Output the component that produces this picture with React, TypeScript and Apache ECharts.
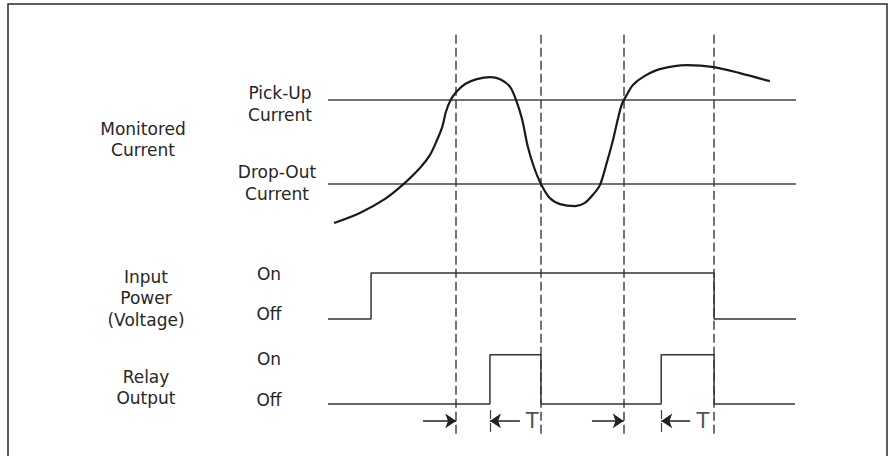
import React, { useEffect, useRef } from "react";
import * as echarts from "echarts";

// ---- Data (arbitrary time units 0..100, arbitrary level units 0..100) ----
const TIME_MIN = 0;
const TIME_MAX = 100;
const LEVEL_MIN = 0;
const LEVEL_MAX = 100;

const PICKUP_LEVEL = 83.1;
const DROPOUT_LEVEL = 62.3;

const currentTime = [
  1.3, 6.8, 12.2, 16.2, 19.7, 21.8, 23.3, 24.4, 25.2, 26.1, 27.4, 29.3, 31.8,
  34.6, 36.8, 38.9, 40.2, 41.5, 42.7, 44.0, 45.5, 47.4, 49.6, 52.8, 54.9, 56.6,
  58.1, 59.6, 60.9, 62.0, 62.8, 63.7, 65.2, 67.7, 70.9, 76.7, 82.5, 88.0, 94.4,
];
const currentLevel = [
  52.6, 55.1, 58.6, 62.3, 66.3, 69.5, 73.2, 76.4, 80.2, 82.9, 85.1, 87.1, 88.3,
  88.8, 88.3, 86.4, 83.1, 78.2, 71.5, 66.5, 62.3, 58.8, 57.3, 56.8, 57.6, 59.6,
  62.0, 67.7, 73.2, 78.7, 82.1, 84.1, 86.9, 89.1, 90.8, 91.8, 91.3, 89.8, 87.8,
];

const INPUT_ON = 40.2;
const INPUT_OFF = 28.8;
const inputTime = [0, 9.2, 9.2, 82.5, 82.5, 100];
const inputLevel = [INPUT_OFF, INPUT_OFF, INPUT_ON, INPUT_ON, INPUT_OFF, INPUT_OFF];

const RELAY_ON = 19.9;
const RELAY_OFF = 7.7;
const relayTime = [0, 34.6, 34.6, 45.5, 45.5, 71.2, 71.2, 82.5, 82.5, 99.8];
const relayLevel = [
  RELAY_OFF, RELAY_OFF, RELAY_ON, RELAY_ON, RELAY_OFF,
  RELAY_OFF, RELAY_ON, RELAY_ON, RELAY_OFF, RELAY_OFF,
];

// dashed event markers (threshold crossings + power off)
const eventTimes = [27.4, 45.5, 63.2, 82.5];
const eventTop = 100;
const eventBottom = 0.3;

// relay pick-up moments (end of delay T)
const delayEndTimes = [34.6, 71.2];
const delayTickTop = 6.2;
const delayTickBottom = 0.5;

// arrows for delay T
const ARROW_LEVEL = 3.5;
const rightArrowFrom = [20.3, 56.4];
const rightArrowTo = [27.4, 63.2];
const leftArrowFrom = [41.0, 77.4];
const leftArrowTo = [34.6, 71.2];
const tLabelTime = [43.6, 80.1];
const tLabelText = ["T", "T"];

const FONT = "'DejaVu Sans', 'Liberation Sans', Arial, sans-serif";

export default function App() {
  const ref = useRef<HTMLDivElement>(null);

  useEffect(() => {
    if (!ref.current) return;
    const chart = echarts.init(ref.current, undefined, { renderer: "svg" });

    const zip = (xs: number[], ys: number[]) => xs.map((x, i) => [x, ys[i]]);

    const textEl = (text: string, x: number, y: number) => ({
      type: "text",
      x,
      y,
      silent: true,
      style: {
        text,
        fill: "#262626",
        fontSize: 17,
        fontFamily: FONT,
        textAlign: "center",
        textVerticalAlign: "middle",
        lineHeight: 21.5,
      },
    });

    const option: any = {
      animation: false,
      backgroundColor: "#ffffff",
      grid: { left: 328, right: 95, top: 32, bottom: 21 },
      xAxis: { type: "value", min: TIME_MIN, max: TIME_MAX, show: false },
      yAxis: { type: "value", min: LEVEL_MIN, max: LEVEL_MAX, show: false },
      graphic: [
        {
          type: "rect",
          shape: { x: 8, y: 4, width: 879, height: 470 },
          style: { fill: "none", stroke: "#2a2a2a", lineWidth: 1.5 },
          silent: true,
        },
        textEl("Monitored\nCurrent", 143, 139.5),
        textEl("Pick-Up\nCurrent", 280, 104),
        textEl("Drop-Out\nCurrent", 277, 183),
        textEl("Input\nPower\n(Voltage)", 146, 298),
        textEl("On", 269, 274),
        textEl("Off", 269, 314),
        textEl("On", 269, 359),
        textEl("Off", 269, 400),
        textEl("Relay\nOutput", 146, 387.5),
      ],
      series: [
        {
          type: "line",
          name: "Pick-Up",
          data: [[TIME_MIN, PICKUP_LEVEL], [TIME_MAX, PICKUP_LEVEL]],
          symbol: "none",
          lineStyle: { color: "#444", width: 1.5 },
        },
        {
          type: "line",
          name: "Drop-Out",
          data: [[TIME_MIN, DROPOUT_LEVEL], [TIME_MAX, DROPOUT_LEVEL]],
          symbol: "none",
          lineStyle: { color: "#444", width: 1.5 },
        },
        {
          type: "lines",
          coordinateSystem: "cartesian2d",
          data: eventTimes.map((t) => ({ coords: [[t, eventBottom], [t, eventTop]] })),
          lineStyle: { color: "#444", width: 1.5, type: [9, 4], opacity: 1 },
          symbol: "none",
          silent: true,
          z: 1,
        },
        {
          type: "lines",
          coordinateSystem: "cartesian2d",
          data: delayEndTimes.map((t) => ({ coords: [[t, delayTickTop], [t, delayTickBottom]] })),
          lineStyle: { color: "#444", width: 1.2, type: [9, 4], opacity: 1 },
          symbol: "none",
          silent: true,
        },
        {
          type: "line",
          name: "Monitored Current",
          data: zip(currentTime, currentLevel),
          smooth: 0.3,
          symbol: "none",
          lineStyle: { color: "#1a1a1a", width: 2.2 },
          z: 5,
        },
        {
          type: "line",
          name: "Input Power",
          data: zip(inputTime, inputLevel),
          symbol: "none",
          lineStyle: { color: "#333", width: 1.5 },
        },
        {
          type: "line",
          name: "Relay Output",
          data: zip(relayTime, relayLevel),
          symbol: "none",
          lineStyle: { color: "#333", width: 1.5 },
        },
        {
          type: "lines",
          coordinateSystem: "cartesian2d",
          data: rightArrowFrom
            .map((f, i) => ({ coords: [[f, ARROW_LEVEL], [rightArrowTo[i], ARROW_LEVEL]] }))
            .concat(
              leftArrowFrom.map((f, i) => ({ coords: [[f, ARROW_LEVEL], [leftArrowTo[i], ARROW_LEVEL]] }))
            ),
          symbol: ["none", "arrow"],
          symbolSize: [0, 11],
          lineStyle: { color: "#222", width: 1.5, opacity: 1 },
          silent: true,
        },
        {
          type: "scatter",
          data: tLabelTime.map((t, i) => ({ value: [t, ARROW_LEVEL], name: tLabelText[i] })),
          symbolSize: 1,
          itemStyle: { color: "rgba(0,0,0,0)" },
          label: {
            show: true,
            position: "inside",
            formatter: (p: any) => p.name,
            color: "#222",
            fontSize: 21,
            fontFamily: FONT,
          },
          silent: true,
        },
      ],
    };

    chart.setOption(option);
    return () => chart.dispose();
  }, []);

  return (
    <div
      ref={ref}
      style={{ position: "absolute", left: 0, top: 0, width: 891, height: 456 }}
    />
  );
}
